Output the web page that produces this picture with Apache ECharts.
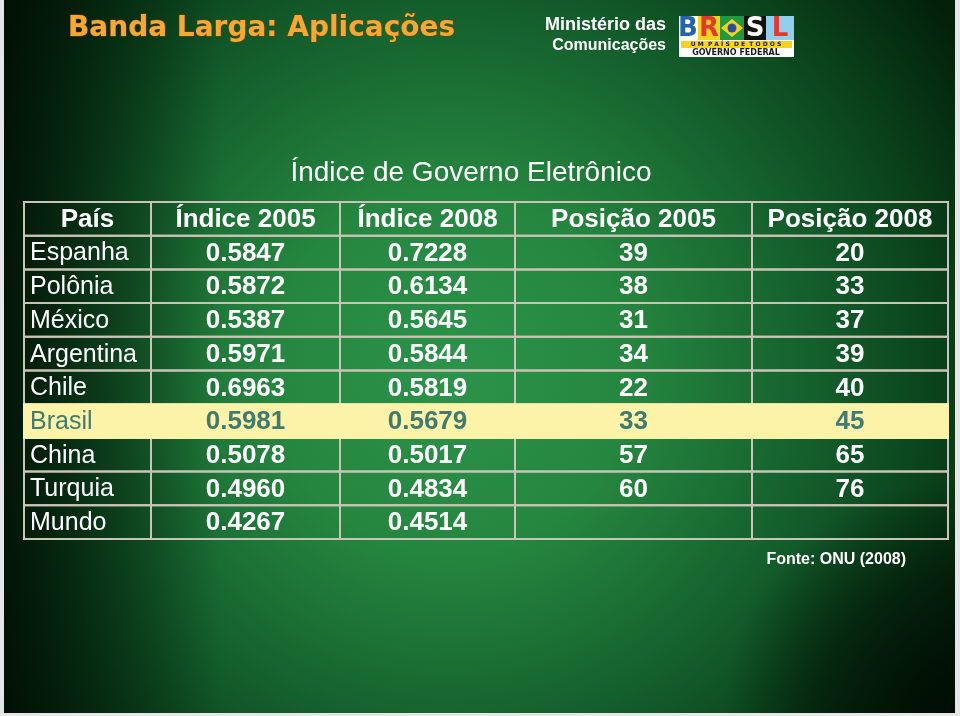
<!DOCTYPE html>
<html><head><meta charset="utf-8">
<script src="https://cdn.jsdelivr.net/npm/echarts@6/dist/echarts.min.js"></script>
<style>html,body{margin:0;padding:0;background:#e8e8e8}#c{width:960px;height:716px}</style>
</head><body><div id="c"></div>
<script>
const pageTitle = 'Banda Larga: Aplicações';
const tableTitle = 'Índice de Governo Eletrônico';
const ministry = ['Ministério das', 'Comunicações'];
const source = 'Fonte: ONU (2008)';
const headers = ['País', 'Índice 2005', 'Índice 2008', 'Posição 2005', 'Posição 2008'];
const countries = ['Espanha', 'Polônia', 'México', 'Argentina', 'Chile', 'Brasil', 'China', 'Turquia', 'Mundo'];
const indice2005 = ['0.5847', '0.5872', '0.5387', '0.5971', '0.6963', '0.5981', '0.5078', '0.4960', '0.4267'];
const indice2008 = ['0.7228', '0.6134', '0.5645', '0.5844', '0.5819', '0.5679', '0.5017', '0.4834', '0.4514'];
const posicao2005 = ['39', '38', '31', '34', '22', '33', '57', '60', ''];
const posicao2008 = ['20', '33', '37', '39', '40', '45', '65', '76', ''];
const highlight = 'Brasil';

// layout (column edges in px relative to table left)
const colEdges = [0, 127, 316, 491, 728, 924];
const columns = [countries, indice2005, indice2008, posicao2005, posicao2008];
const rowKeys = ['header'].concat(countries);

function cellText(c, r) {
  if (r === 0) return headers[c];
  return columns[c][r - 1];
}

const cells = [];
for (let r = 0; r < rowKeys.length; r++) {
  for (let c = 0; c < headers.length; c++) cells.push([c, r]);
}

const SANS = 'Liberation Sans';
const VERD = 'DejaVu Sans';

function txt(text, x, y, size, weight, family, fill, align, extra) {
  const s = {text: text, x: x, y: y, align: align || 'left', verticalAlign: 'middle',
    fontSize: size, fontWeight: weight, fontFamily: family, fill: fill};
  if (extra) Object.assign(s, extra);
  return s;
}

const chart = echarts.init(document.getElementById('c'), null, {renderer: 'canvas'});

const option = {
  animation: false,
  grid: {left: 24, top: 202, width: 924, height: 337},
  xAxis: {type: 'value', min: 0, max: 924, show: false},
  yAxis: {type: 'category', data: rowKeys, inverse: true, show: false},
  graphic: [
    {type: 'rect', z: -100, shape: {x: 0, y: 0, width: 960, height: 716},
      style: {fill: new echarts.graphic.RadialGradient(0.47, 0.52, 0.85, [
        {offset: 0, color: '#2c934a'},
        {offset: 0.3, color: '#25863f'},
        {offset: 0.6, color: '#145f2c'},
        {offset: 0.8, color: '#0a421b'},
        {offset: 1, color: '#03200b'}
      ])}},
    {type: 'rect', z: -99, shape: {x: 0, y: 0, width: 220, height: 716},
      style: {fill: new echarts.graphic.LinearGradient(0, 0, 1, 0, [
        {offset: 0, color: 'rgba(0,12,3,0.85)'},
        {offset: 1, color: 'rgba(0,12,3,0)'}
      ])}},
    {type: 'rect', z: -99, shape: {x: 560, y: 480, width: 400, height: 236},
      style: {fill: new echarts.graphic.RadialGradient(1, 1, 1, [
        {offset: 0, color: 'rgba(0,10,2,0.9)'},
        {offset: 0.6, color: 'rgba(0,10,2,0.5)'},
        {offset: 1, color: 'rgba(0,10,2,0)'}
      ])}},
    // white frame
    {type: 'rect', z: 100, shape: {x: 0, y: 0, width: 4, height: 716}, style: {fill: '#e6e6e6'}},
    {type: 'rect', z: 100, shape: {x: 955, y: 0, width: 5, height: 716}, style: {fill: '#e6e6e6'}},
    {type: 'rect', z: 100, shape: {x: 0, y: 713, width: 960, height: 3}, style: {fill: '#e6e6e6'}},
    // header title
    {type: 'text', z: 100, style: txt(pageTitle, 68, 29, 28, 'bold', VERD, '#f6a833', 'left',
      {stroke: '#6a4210', lineWidth: 1, shadowColor: 'rgba(0,0,0,0.6)', shadowOffsetX: 1, shadowOffsetY: 1, shadowBlur: 2})},
    {type: 'text', z: 100, style: txt(ministry[0], 666, 25, 18, 'bold', SANS, '#ffffff', 'right')},
    {type: 'text', z: 100, style: txt(ministry[1], 666, 46, 16, 'bold', SANS, '#ffffff', 'right')},
    // logo
    {type: 'group', z: 100, x: 679, y: 16, children: [
      {type: 'rect', shape: {x: 0, y: 0, width: 115, height: 41}, style: {fill: '#ffffff'}},
      {type: 'rect', shape: {x: 19, y: 0, width: 22, height: 24}, style: {fill: '#f7d21e'}},
      {type: 'rect', shape: {x: 41, y: 0, width: 24, height: 24}, style: {fill: '#1f9a3e'}},
      {type: 'polygon', shape: {points: [[53, 3], [64, 12], [53, 21], [42, 12]]}, style: {fill: '#f7d21e'}},
      {type: 'circle', shape: {cx: 53, cy: 12, r: 4.5}, style: {fill: '#2a4fa0'}},
      {type: 'rect', shape: {x: 65, y: 0, width: 22, height: 24}, style: {fill: '#111111'}},
      {type: 'rect', shape: {x: 87, y: 0, width: 28, height: 24}, style: {fill: '#8fd0ef'}},
      {type: 'text', style: txt('B', 9, 13, 26, 'bold', VERD, '#2563b0', 'center')},
      {type: 'text', style: txt('R', 30, 13, 26, 'bold', VERD, '#e23b2e', 'center')},
      {type: 'text', style: txt('S', 76, 13, 26, 'bold', VERD, '#ffffff', 'center')},
      {type: 'text', style: txt('L', 101, 13, 26, 'bold', VERD, '#e23b2e', 'center')},
      {type: 'rect', shape: {x: 2, y: 25, width: 111, height: 7}, style: {fill: '#f7d21e'}},
      {type: 'text', style: txt('U M  P A Í S  D E  T O D O S', 57, 28.5, 6, 'bold', VERD, '#1a1a1a', 'center')},
      {type: 'text', style: txt('GOVERNO FEDERAL', 57, 37, 8, 'bold', VERD, '#1a1a1a', 'center')}
    ]},
    // table title
    {type: 'text', z: 100, style: txt(tableTitle, 471, 173, 28, 'normal', SANS, '#ffffff', 'center')},
    // source
    {type: 'text', z: 100, style: txt(source, 906, 560, 16, 'bold', SANS, '#ffffff', 'right')}
  ],
  series: [{
    type: 'custom',
    data: cells,
    encode: {x: 0, y: 1},
    renderItem: function (params, api) {
      const c = api.value(0), r = api.value(1);
      const p0 = api.coord([colEdges[c], r]);
      const p1 = api.coord([colEdges[c + 1], r]);
      const h = api.size([0, 1])[1];
      const x = p0[0], y = p0[1] - h / 2, w = p1[0] - p0[0];
      const isHead = r === 0;
      const hl = !isHead && rowKeys[r] === highlight;
      const left = c === 0 && !isHead;
      const bold = isHead || c > 0;
      return {
        type: 'group',
        children: [
          {type: 'rect', z2: hl ? 10 : 1, shape: {x: x, y: y, width: w, height: h},
            style: {fill: hl ? '#fdf3a8' : 'rgba(0,0,0,0)', stroke: hl ? '#fdf3a8' : '#c9c4b6', lineWidth: 2}},
          {type: 'text', z2: 20, style: txt(cellText(c, r), left ? x + 6 : x + w / 2, y + h / 2 + 1,
            bold ? 26 : 25, bold ? 'bold' : 'normal', SANS, hl ? '#3f7b70' : '#ffffff', left ? 'left' : 'center')}
        ]
      };
    }
  }]
};
chart.setOption(option);
</script></body></html>
